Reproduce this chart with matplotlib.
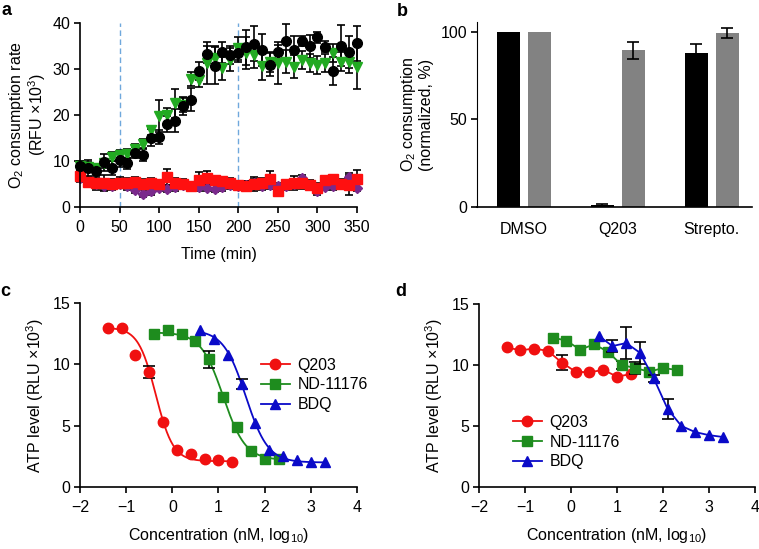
import matplotlib
matplotlib.use('Agg')
import matplotlib.pyplot as plt
import numpy as np

plt.rcParams['font.family'] = ['Liberation Sans', 'DejaVu Sans']
plt.rcParams['mathtext.fontset'] = 'custom'
plt.rcParams['mathtext.rm'] = 'Liberation Sans'
plt.rcParams['mathtext.it'] = 'Liberation Sans:italic'
plt.rcParams['mathtext.bf'] = 'Liberation Sans:bold'
plt.rcParams['font.size'] = 11.5

# ---- panel a data: O2 consumption over time ----
time_min = np.arange(0, 351, 10)
black_o2 = [8.9, 8.4, 7.9, 9.7, 8.4, 10.2, 9.5, 11.8, 11.4, 15.1, 15.3, 18.0,
            18.8, 22.0, 23.3, 29.5, 33.2, 30.7, 33.6, 33.1, 33.5, 34.7, 35.5,
            34.2, 30.9, 33.7, 36.0, 34.2, 36.1, 34.9, 36.9, 34.8, 29.5, 35.1,
            33.7, 35.6]
black_err = [1.0, 1.8, 1.5, 1.8, 1.5, 1.5, 1.2, 1.2, 1.5, 1.8, 1.5, 1.8, 2.5,
             2.0, 2.5, 2.0, 1.8, 4.0, 2.2, 2.0, 2.0, 3.8, 3.8, 3.5, 2.5, 1.5,
             3.8, 3.0, 1.0, 2.5, 1.2, 1.2, 3.0, 4.5, 3.5, 3.8]
green_o2 = [9.0, 8.7, 8.4, 9.5, 10.9, 11.3, 11.6, 12.7, 13.7, 16.7, 19.8, 20.0,
            22.5, 22.2, 27.8, 27.6, 31.3, 32.4, 30.2, 32.0, 34.5, 33.5, 33.1,
            30.7, 31.6, 31.3, 31.6, 30.5, 32.0, 31.3, 30.9, 31.3, 33.5, 31.6,
            31.6, 30.5]
green_err = [1.0, 1.0, 1.0, 1.0, 1.0, 1.0, 1.0, 1.0, 1.0, 1.0, 3.5, 1.5, 3.2,
             1.5, 1.5, 1.5, 4.5, 2.5, 2.5, 2.5, 2.5, 3.5, 2.8, 3.0, 2.2, 4.5,
             2.5, 2.5, 2.0, 2.0, 2.0, 2.0, 2.0, 2.0, 2.5, 4.8]
red_o2 = [6.7, 5.5, 5.2, 5.2, 5.0, 5.3, 5.2, 5.5, 5.0, 5.2, 4.9, 6.5, 5.3, 5.0,
          4.5, 5.8, 6.3, 5.8, 5.6, 5.2, 4.7, 4.6, 5.0, 5.2, 6.0, 3.5, 4.9, 5.2,
          5.2, 4.8, 4.2, 5.8, 6.0, 5.0, 4.8, 6.0]
red_err = [1.0, 1.2, 1.5, 1.8, 1.0, 1.2, 1.0, 1.0, 1.0, 1.0, 1.0, 1.8, 1.0, 1.0,
           1.0, 1.8, 1.5, 1.0, 1.0, 1.0, 1.0, 1.0, 1.5, 1.2, 1.8, 1.0, 1.0, 1.5,
           1.2, 1.0, 1.0, 1.0, 1.0, 1.0, 2.2, 2.0]
purple_o2 = [6.2, 5.5, 5.0, 4.5, 4.6, 5.0, 4.5, 3.8, 2.9, 3.5, 4.2, 4.0, 4.3,
             4.8, 4.5, 4.3, 4.2, 4.0, 4.3, 4.8, 4.5, 4.8, 5.3, 4.5, 4.8, 4.5,
             4.6, 5.0, 6.2, 4.8, 3.5, 4.4, 4.6, 5.0, 6.5, 4.2]
purple_err = [0.8] * len(time_min)
drug_times = [50, 200]

# ---- panel b data: normalized O2 consumption ----
b_groups = ['DMSO', 'Q203', 'Strepto.']
b_black = [100, 1.0, 88]
b_black_err = [0, 0.5, 5]
b_gray = [100, 89.5, 99.5]
b_gray_err = [0, 5, 3]

# ---- panel c data: ATP levels ----
q203_x_c = [-1.4, -1.1, -0.8, -0.5, -0.2, 0.1, 0.4, 0.7, 1.0, 1.3]
q203_y_c = [13.0, 13.0, 10.8, 9.4, 5.3, 3.0, 2.7, 2.3, 2.2, 2.0]
q203_e_c = [0, 0, 0, 0.5, 0, 0, 0, 0, 0, 0]
nd_x_c = [-0.4, -0.1, 0.2, 0.5, 0.8, 1.1, 1.4, 1.7, 2.0, 2.3]
nd_y_c = [12.5, 12.8, 12.5, 11.9, 10.4, 7.3, 4.9, 2.95, 2.25, 2.25]
nd_e_c = [0, 0, 0, 0, 0.7, 0, 0, 0, 0, 0]
bdq_x_c = [0.6, 0.9, 1.2, 1.5, 1.8, 2.1, 2.4, 2.7, 3.0, 3.3]
bdq_y_c = [12.8, 12.1, 10.8, 8.4, 5.2, 3.0, 2.5, 2.2, 2.05, 2.0]
bdq_e_c = [0, 0, 0, 0.4, 0, 0, 0, 0, 0, 0]
# fitted curve parameters: top, bottom, logIC50, hill
q203_fit = [13.0, 2.1, -0.36, 2.3]
nd_fit = [12.6, 2.2, 1.1, 1.8]
bdq_fit = [12.8, 2.0, 1.59, 1.8]

# ---- panel d data ----
q203_x_d = [-1.4, -1.1, -0.8, -0.5, -0.2, 0.1, 0.4, 0.7, 1.0, 1.3]
q203_y_d = [11.45, 11.2, 11.35, 11.15, 10.2, 9.45, 9.4, 9.6, 9.05, 9.25]
q203_e_d = [0, 0, 0, 0, 0.6, 0, 0, 0, 0, 0]
nd_x_d = [-0.4, -0.1, 0.2, 0.5, 0.8, 1.1, 1.4, 1.7, 2.0, 2.3]
nd_y_d = [12.25, 12.0, 11.25, 11.7, 11.1, 10.0, 9.75, 9.45, 9.75, 9.6]
nd_e_d = [0, 0, 0, 0, 0, 0.3, 0.5, 0, 0, 0]
bdq_x_d = [0.6, 0.9, 1.2, 1.5, 1.8, 2.1, 2.4, 2.7, 3.0, 3.3]
bdq_y_d = [12.4, 11.55, 11.8, 11.0, 8.9, 6.4, 5.0, 4.5, 4.25, 4.1]
bdq_e_d = [0, 0.5, 1.3, 0.9, 0.3, 0.8, 0, 0, 0, 0]

RED = '#f01010'
GREEN = '#1e8c1e'
BLUE = '#0a0ac8'

W, H = 759, 549


def box(l, r, t, b):
    return [l / W, 1 - b / H, (r - l) / W, (b - t) / H]


def style(ax):
    for s in ['top', 'right']:
        ax.spines[s].set_visible(False)
    for s in ['left', 'bottom']:
        ax.spines[s].set_linewidth(1.2)
    ax.tick_params(direction='out', length=4, width=1.2, labelsize=11.5, pad=3)
    ax.tick_params(axis='x', pad=5)


def hill(x, p):
    top, bottom, c, h = p
    return bottom + (top - bottom) / (1 + 10 ** ((x - c) * h))


def err_bars(ax, x, y, e, **kw):
    # only draw bars where an error was visible
    x, y, e = np.asarray(x), np.asarray(y), np.asarray(e)
    k = e > 0
    if k.any():
        ax.errorbar(x[k], y[k], yerr=e[k], fmt='none', ecolor='black',
                    elinewidth=1.2, capthick=1.2, **kw)


fig = plt.figure(figsize=(W / 100, H / 100), dpi=100)

# Panel a
ax = fig.add_axes(box(80, 357, 23, 207))
style(ax)
for t in drug_times:
    ax.axvline(t, color='#6fa8dc', ls=(0, (4, 2.5)), lw=1, zorder=0)
ekw = dict(ecolor='black', elinewidth=1.2, capsize=3, capthick=1.2, clip_on=False, ls='none')
ax.errorbar(time_min, purple_o2, yerr=purple_err, fmt='D', color='#7a2a8c', ms=5.5, **ekw)
ax.errorbar(time_min, red_o2, yerr=red_err, fmt='s', color='#ff1010', ms=7.5, **ekw)
ax.errorbar(time_min, green_o2, yerr=green_err, fmt='v', color='#22aa22', ms=7.5, **ekw)
ax.errorbar(time_min, black_o2, yerr=black_err, fmt='o', color='black', ms=7, **ekw)
ax.set_xlim(0, 350)
ax.set_ylim(0, 40)
ax.set_xticks(range(0, 351, 50))
ax.set_yticks(range(0, 41, 10))
ax.set_xlabel('Time (min)', labelpad=9)
ax.set_ylabel('O$_2$ consumption rate\n(RFU ×10$^3$)', linespacing=1.05, labelpad=3)

# Panel b
ax = fig.add_axes(box(477, 752, 22, 207))
style(ax)
ax.spines['left'].set_linewidth(0.8)
xb = np.arange(len(b_groups))
ax.bar(xb - 0.165, b_black, 0.245, color='black')
ax.bar(xb + 0.165, b_gray, 0.245, color='#828282')
err_bars(ax, xb - 0.165, b_black, b_black_err, capsize=4.5)
err_bars(ax, xb + 0.165, b_gray, b_gray_err, capsize=4.5)
ax.set_xlim(-0.5, 2.43)
ax.set_ylim(0, 105.7)
ax.set_yticks([0, 50, 100])
ax.set_xticks(xb)
ax.set_xticklabels(b_groups)
ax.tick_params(axis='x', length=0, pad=11)
ax.set_ylabel('O$_2$ consumption\n(normalized, %)', linespacing=1.05, labelpad=5)

# Panels c and d
xs = np.linspace(-2, 4, 400)
for pos, label, lx, ly in [((80, 357, 303, 487), 'c', 0.63, 0.555),
                            ((479, 755, 304, 487), 'd', 0.10, 0.245)]:
    ax = fig.add_axes(box(*pos))
    style(ax)
    mk = dict(ms=7.5, clip_on=False)
    if label == 'c':
        sets = [(q203_x_c, q203_y_c, q203_e_c, q203_fit, RED, 'o', 'Q203'),
                (nd_x_c, nd_y_c, nd_e_c, nd_fit, GREEN, 's', 'ND-11176'),
                (bdq_x_c, bdq_y_c, bdq_e_c, bdq_fit, BLUE, '^', 'BDQ')]
        for x, y, e, p, col, m, name in sets:
            xx = xs[(xs >= min(x)) & (xs <= max(x))]
            ax.plot(xx, hill(xx, p), color=col, lw=1.3)
            err_bars(ax, x, y, e, capsize=4.5)
            ax.plot(x, y, m, color=col, **mk)
            ax.plot([], [], color=col, marker=m, lw=1.3, ms=7.5, label=name)
    else:
        sets = [(q203_x_d, q203_y_d, q203_e_d, RED, 'o', 'Q203'),
                (nd_x_d, nd_y_d, nd_e_d, GREEN, 's', 'ND-11176'),
                (bdq_x_d, bdq_y_d, bdq_e_d, BLUE, '^', 'BDQ')]
        for x, y, e, col, m, name in sets:
            err_bars(ax, x, y, e, capsize=4.5)
            ax.plot(x, y, m + '-', color=col, lw=1.3, label=name, **mk)
    ax.set_xlim(-2, 4)
    ax.set_ylim(0, 15)
    ax.set_xticks(range(-2, 5))
    ax.set_yticks([0, 5, 10, 15])
    ax.set_xlabel('Concentration (nM, log$_{10}$)', labelpad=8)
    ax.set_ylabel('ATP level (RLU ×10$^3$)', labelpad=5)
    ax.legend(loc='center left', bbox_to_anchor=(lx, ly), frameon=False,
              handlelength=1.8, handletextpad=0.5, labelspacing=0.3,
              borderaxespad=0, fontsize=11.5)

# panel letters
for s, x, y in [('a', 1, 2), ('b', 397, 3), ('c', 0, 283), ('d', 395, 283)]:
    fig.text(x / W, 1 - y / H, s, fontsize=13, fontweight='bold', va='top', ha='left')

fig.savefig('out.png', dpi=100)
